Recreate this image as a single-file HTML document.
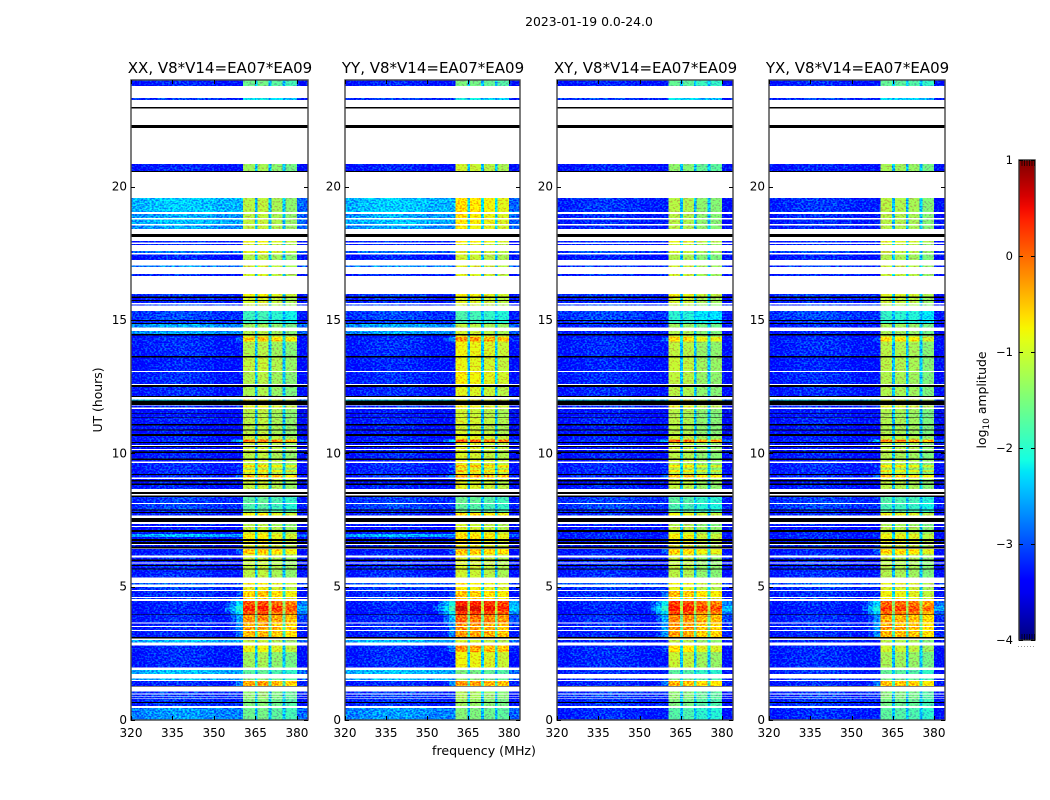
<!DOCTYPE html>
<html>
<head>
<meta charset="utf-8">
<title>2023-01-19 amplitude waterfall</title>
<style>
html,body{margin:0;padding:0;background:#fff;}
svg{display:block;}
text{font-family:"DejaVu Sans","Liberation Sans",sans-serif;fill:#000;}
</style>
</head>
<body>
<svg id="figure" xmlns="http://www.w3.org/2000/svg" width="1050" height="800" viewBox="0 0 1050 800">
<defs>
<filter id="speckle" filterUnits="userSpaceOnUse" x="0" y="0" width="1050" height="800" color-interpolation-filters="sRGB">
<feTurbulence type="fractalNoise" baseFrequency="0.48 0.62" numOctaves="1" seed="7" result="t"/>
<feColorMatrix in="t" type="matrix" values="0 0 0 0 0.5  3 0 0 0 -1  0 0 0 0 0.5  0 0 0 0 1" result="n"/>
<feComposite in="SourceGraphic" in2="n" operator="arithmetic" k1="0" k2="1" k3="0.6" k4="-0.3" result="m"/>
<feComposite in="m" in2="SourceAlpha" operator="in"/>
</filter>
<linearGradient id="jet-gradient" x1="0" y1="1" x2="0" y2="0"></linearGradient>
</defs>
</svg>
<script>
// ---- chart data (UT hours, log10 amplitude) ----
const polarizations = ["XX","YY","XY","YX"];
const baselineLabel = "V8*V14=EA07*EA09";
const freqTicks = [320,335,350,365,380];
const utTicks = [0,5,10,15,20];
const colorTicks = [1,0,-1,-2,-3,-4];

const rowStartUT = [
24.00,23.325,20.85,19.575,18.975,18.77,18.54,17.96,17.85,17.59,
17.46,17.04,16.73,15.98,15.83,15.71,15.58,15.34,14.96,14.85,
14.59,14.42,14.36,14.19,13.59,13.05,12.49,12.02,11.79,11.67,
11.50,11.34,11.05,10.85,10.65,10.51,10.38,10.23,10.13,10.02,
9.75,9.64,9.56,9.47,9.38,9.30,9.19,9.03,8.94,8.81,
8.37,8.10,7.86,7.76,7.35,7.24,7.05,6.98,6.86,6.71,
6.56,6.42,6.23,6.10,5.97,5.86,5.78,5.65,5.13,4.98,
4.84,4.58,4.47,4.28,4.09,3.93,3.61,3.49,3.34,3.00,
2.79,2.55,1.88,1.56,1.46,1.06,0.96,0.86,0.78,0.63,0.45];
const rowEndUT = [
23.775,23.25,20.59,19.05,18.825,18.60,18.41,17.91,17.81,17.51,
17.25,16.99,16.65,15.88,15.75,15.64,15.54,15.00,14.89,14.72,
14.48,14.36,14.19,13.65,13.09,12.60,12.15,11.98,11.71,11.52,
11.36,11.10,10.89,10.73,10.51,10.43,10.31,10.17,10.06,9.81,
9.69,9.56,9.47,9.38,9.30,9.23,9.09,9.00,8.86,8.66,
8.14,7.90,7.80,7.66,7.27,7.13,6.98,6.86,6.78,6.68,
6.50,6.23,6.16,6.02,5.90,5.81,5.69,5.35,5.09,4.88,
4.62,4.53,4.28,4.09,3.96,3.66,3.53,3.38,3.11,2.90,
2.55,1.96,1.73,1.50,1.28,0.99,0.89,0.80,0.68,0.53,0];

const bgParallel = [
-3.15,-3.0,-3.15,-2.3,-2.45,-2.35,-2.5,-3.1,-3.1,-2.7,
-3.15,-2.6,-3.1,-3.0,-3.1,-3.1,-3.0,-2.95,-3.0,-2.5,
-2.5,-3.2,-3.1,-3.1,-3.15,-3.1,-3.1,-2.2,-3.1,-3.2,
-3.2,-3.15,-3.2,-3.2,-3.15,-3.1,-3.2,-3.2,-3.2,-3.15,
-3.2,-3.1,-3.1,-3.1,-3.1,-3.1,-3.1,-3.2,-3.2,-3.15,
-3.0,-2.95,-3.1,-3.1,-3.15,-3.2,-3.15,-2.4,-3.15,-3.15,
-3.1,-3.15,-3.1,-3.1,-3.15,-3.1,-3.1,-3.1,-2.8,-3.0,
-3.05,-3.0,-3.1,-3.15,-3.15,-3.1,-3.1,-3.1,-3.1,-2.4,
-3.1,-3.1,-2.35,-2.4,-3.1,-3.0,-3.0,-3.0,-3.05,-3.05,-2.55];
const bgCross = [
-3.15,-3.0,-3.15,-3.05,-3.1,-3.1,-3.1,-3.1,-3.1,-2.9,
-3.15,-3.0,-3.1,-3.0,-3.1,-3.1,-3.0,-2.95,-3.0,-3.1,
-3.1,-3.2,-3.1,-3.1,-3.15,-3.1,-3.1,-2.2,-3.1,-3.2,
-3.2,-3.15,-3.2,-3.2,-3.15,-3.1,-3.2,-3.2,-3.2,-3.15,
-3.2,-3.1,-3.1,-3.1,-3.1,-3.1,-3.1,-3.2,-3.2,-3.15,
-3.0,-2.95,-3.1,-3.1,-3.15,-3.2,-3.15,-3.1,-3.15,-3.15,
-3.1,-3.15,-3.1,-3.1,-3.15,-3.1,-3.1,-3.1,-2.8,-3.0,
-3.05,-3.0,-3.1,-3.15,-3.15,-3.1,-3.1,-3.1,-3.1,-3.1,
-3.1,-3.1,-3.05,-3.0,-3.1,-3.0,-3.0,-3.0,-3.05,-3.05,-3.1];

const bandXX = [
-1.6,-2.2,-1.3,-1.15,-1.15,-1.1,-1.1,-.85,-1,-.9,
-1.2,-1,-1,-.8,-1,-1,-1.1,-1.9,-1.9,-1.3,
-1.2,-1,-.5,-1.2,-1.1,-1.2,-1.25,-.9,-.85,-1.15,
-1.2,-1.15,-1.15,-1.15,-1.05,-.1,-1.1,-1.05,-1.05,-1.15,
-1,-1.15,-.65,-1.15,-.7,-1.15,-.45,-1,-1.05,-1.1,
-1.7,-1.8,-1.6,-.8,-1.2,-1.1,-1,-.75,-.8,-.8,
-.9,-.55,-.9,-1.1,-1.1,-1.1,-1.1,-1.15,-.8,-.9,
-.55,-.7,.1,.35,.1,-.2,-.4,-.3,-.45,-1.1,
-.85,-1.3,-1.7,-1.5,-.35,-1.4,-1.4,-1.4,-1.5,-1.5,-1.6];
const bandYY = [
-1.6,-2.2,-1.1,-.75,-.8,-.8,-.85,-.8,-1,-1,
-1.1,-1,-1,-.85,-1,-1,-1.1,-1.9,-1.9,-1.2,
-1.1,-.9,-.3,-.9,-.95,-.85,-1.0,-.9,-.85,-1.1,
-1.1,-1.05,-1.1,-1.05,-.95,0,-1,-1,-1,-1.05,
-.9,-1,-.5,-1,-.55,-1,-.35,-.9,-1,-1,
-1.7,-1.8,-1.6,-.7,-1.1,-1.05,-.9,-.7,-.75,-.8,
-.85,-.55,-.85,-1.05,-1.05,-1.05,-1.05,-1.1,-.8,-.85,
-.6,-.6,.3,.55,.2,-.1,-.3,-.35,-.35,-1.05,
-.35,-.9,-1.6,-1.5,-.35,-1.3,-1.3,-1.3,-1.4,-1.4,-1.55];
const bandXY = [
-1.65,-2.2,-1.4,-1.15,-1.15,-1.15,-1.15,-.85,-1,-1,
-1.2,-1,-1,-.8,-1,-1,-1.1,-2,-1.9,-1.3,
-1.2,-1,-.55,-1.1,-1.05,-1.1,-1.15,-.9,-.85,-1.15,
-1.2,-1.15,-1.15,-1.15,-1.05,-.05,-1.1,-1.05,-1.05,-1.15,
-1,-1.15,-.65,-1.15,-.7,-1.15,-.45,-1,-1.05,-1.1,
-1.7,-1.8,-1.6,-.8,-1.2,-1.1,-1,-.75,-.8,-.8,
-.9,-.55,-.9,-1.1,-1.1,-1.1,-1.1,-1.15,-.8,-.9,
-.45,-.7,.2,.45,.15,-.15,-.3,-.25,-.3,-1.1,
-.65,-1.05,-1.7,-1.5,-.4,-1.4,-1.4,-1.4,-1.5,-1.5,-1.75];
const bandYX = [
-1.6,-2.2,-1.2,-1.1,-1.1,-1.1,-1.1,-.85,-1,-1,
-1.15,-1,-1,-.85,-1,-1,-1.1,-1.9,-1.9,-1.2,
-1.2,-1,-.6,-1.1,-1.1,-1.15,-1.15,-.9,-.85,-1.15,
-1.2,-1.15,-1.15,-1.15,-1.05,-.1,-1.1,-1.05,-1.05,-1.15,
-1,-1.15,-.65,-1.15,-.7,-1.15,-.45,-1,-1.05,-1.1,
-1.7,-1.8,-1.6,-.8,-1.2,-1.1,-1,-.75,-.8,-.8,
-.9,-.55,-.9,-1.1,-1.1,-1.1,-1.1,-1.15,-.8,-.9,
-.75,-.7,.05,.3,.05,-.3,-.3,-.25,-.35,-1.1,
-.95,-1.2,-1.6,-1.5,-.4,-1.4,-1.4,-1.4,-1.5,-1.5,-1.65];

const subbandOffsetXX = [0,.05,-.1,-.25];
const subbandOffsetYY = [.1,.05,-.05,-.15];
const subbandOffsetXY = [0,-.05,-.25,-.3];
const subbandOffsetYX = [-.05,-.1,-.15,-.35];

const flaggedStartUT = [22.99,22.31,20.59,18.23,15.88,15.75,15.00,14.89,14.48,13.65,12.56,12.15,11.98,11.52,11.36,11.10,10.89,10.73,10.43,10.28,10.06,9.81,9.23,9.00,8.86,8.55,8.41,7.90,7.80,7.58,7.13,6.78,6.68,6.50,6.02,5.81,5.69,3.96,3.11,1.28,0.68];
const flaggedEndUT = [22.93,22.20,20.55,18.11,15.83,15.71,14.96,14.85,14.42,13.59,12.49,12.11,11.81,11.50,11.34,11.05,10.85,10.65,10.38,10.23,10.02,9.75,9.19,8.94,8.81,8.48,8.37,7.86,7.76,7.43,7.05,6.71,6.60,6.43,5.97,5.78,5.65,3.93,3.06,1.25,0.63];

const bgFreqEdges = [320,325,330,335,340,345,350];
const bgProfile = [-.1,-.02,.04,.07,.05,0];
const skirtFreqEdges = [350,352,354,356,358,360.5];
const skirtDrop = [-4,-3.6,-3.2,-2.8,-2.4];
const subbandStart = [360.5,365.8,370.8,375.8];
const subbandEnd = [364.8,369.8,374.8,380];
const gapLevel = -2.45;
const noiseFloorShift = -0.12;

// ---- layout / scales ----
const svgNS = "http://www.w3.org/2000/svg";
const svg = document.getElementById("figure");
const panelLeft = [131,345,557,769];
const panelRight = [308,520,733,945];
const plotTop = 80, plotBottom = 720;
const barLeft = 1019, barRight = 1035, barTop = 160, barBottom = 640;
const yOf = function(h){ return plotBottom - h * (plotBottom - plotTop) / 24; };
const barY = function(v){ return barBottom - (v + 4) * (barBottom - barTop) / 5; };

function piece(p, t){
  for (let i = 1; i < p.length; i++) {
    if (t <= p[i][0]) return p[i-1][1] + (p[i][1]-p[i-1][1])*(t-p[i-1][0])/(p[i][0]-p[i-1][0]);
  }
  return p[p.length-1][1];
}
const jetR = [[0,0],[.35,0],[.66,1],[.89,1],[1,.5]];
const jetG = [[0,0],[.125,0],[.375,1],[.64,1],[.91,0],[1,0]];
const jetB = [[0,.5],[.11,1],[.34,1],[.65,0],[1,0]];
function jet(v){
  const t = Math.min(1, Math.max(0, (v + 4) / 5));
  return "rgb(" + Math.round(255*piece(jetR,t)) + "," + Math.round(255*piece(jetG,t)) + "," + Math.round(255*piece(jetB,t)) + ")";
}
function make(tag, attrs, parent){
  const el = document.createElementNS(svgNS, tag);
  for (const k in attrs) el.setAttribute(k, attrs[k]);
  (parent || svg).appendChild(el);
  return el;
}
function cell(g, x0, x1, y0, y1, v){
  const r = make("rect", {x:x0, y:y0, width:x1-x0, height:y1-y0, fill:jet(v), "shape-rendering":"crispEdges"}, g);
  
  
}

const bgByPol = [bgParallel,bgParallel,bgCross,bgCross];
const bandByPol = [bandXX,bandYY,bandXY,bandYX];
const offsetByPol = [subbandOffsetXX,subbandOffsetYY,subbandOffsetXY,subbandOffsetYX];

// ---- figure title ----
const figTitle = make("text", {x:589, y:26, "text-anchor":"middle", "font-size":12.4});
figTitle.textContent = "2023-01-19 0.0-24.0";



// ---- panels ----
polarizations.forEach(function(pol, p){
  const L = panelLeft[p], R = panelRight[p];
  const xOf = function(f){ return L + (f - 320) * (R - L) / 64; };
  const panel = make("g", {});
  
  

  const data = make("g", {filter:"url(#speckle)"}, panel);
  
  
  const bg = bgByPol[p], band = bandByPol[p], off = offsetByPol[p];
  rowStartUT.forEach(function(start, i){
    const y0 = yOf(start), y1 = yOf(rowEndUT[i]);
    const floor = bg[i] + noiseFloorShift;
    bgProfile.forEach(function(o, k){
      cell(data, xOf(bgFreqEdges[k]), xOf(bgFreqEdges[k+1]), y0, y1, floor + o);
    });
    skirtDrop.forEach(function(d, k){
      cell(data, xOf(skirtFreqEdges[k]), xOf(skirtFreqEdges[k+1]), y0, y1, Math.max(floor - .08, band[i] + d));
    });
    subbandStart.forEach(function(s, k){
      cell(data, xOf(s), xOf(subbandEnd[k]), y0, y1, band[i] + off[k]);
      if (k < 3) cell(data, xOf(subbandEnd[k]), xOf(subbandStart[k+1]), y0, y1, Math.max(gapLevel, band[i] - 1.5));
    });
    cell(data, xOf(380), xOf(384), y0, y1, Math.max(Math.min(floor - .2, -2.9), band[i] - 2.9));
  });

  const flags = make("g", {}, panel);
  
  
  flaggedStartUT.forEach(function(s, i){
    const r = make("rect", {x:L, y:yOf(s), width:R-L, height:yOf(flaggedEndUT[i])-yOf(s), fill:"#000", "shape-rendering":"crispEdges"}, flags);
    
    
  });

  const frame = make("rect", {x:L, y:plotTop, width:R-L, height:plotBottom-plotTop, fill:"none", stroke:"#444", "stroke-width":1.4}, panel);
  
  

  freqTicks.forEach(function(f){
    const x = Math.round(xOf(f)) + .5;
    const t1 = make("line", {x1:x, x2:x, y1:plotBottom, y2:plotBottom-4, stroke:"#000"}, panel);
    
    
    const t2 = make("line", {x1:x, x2:x, y1:plotTop, y2:plotTop+4, stroke:"#000"}, panel);
    
    
    const lab = make("text", {x:xOf(f), y:737, "text-anchor":"middle", "font-size":12}, panel);
    lab.textContent = String(f);
    
    
  });
  utTicks.forEach(function(h){
    const y = Math.round(yOf(h)) + .5;
    const t1 = make("line", {x1:L, x2:L+4, y1:y, y2:y, stroke:"#000"}, panel);
    
    
    const t2 = make("line", {x1:R, x2:R-4, y1:y, y2:y, stroke:"#000"}, panel);
    
    
    const lab = make("text", {x:L-4, y:yOf(h)+4, "text-anchor":"end", "font-size":12}, panel);
    lab.textContent = String(h);
    
    
  });

  const title = make("text", {x:(L+R)/2 + 0.5, y:73, "text-anchor":"middle", "font-size":15}, panel);
  title.textContent = pol + ", " + baselineLabel;
  
  
});

// ---- axis titles ----
const yTitle = make("text", {x:0, y:0, "text-anchor":"middle", "font-size":12.4, transform:"translate(102,400) rotate(-90)"});
yTitle.textContent = "UT (hours)";



const xTitle = make("text", {x:484, y:755, "text-anchor":"middle", "font-size":12.6});
xTitle.textContent = "frequency (MHz)";



// ---- colorbar ----
const grad = document.getElementById("jet-gradient");
for (let s = 0; s <= 40; s++) {
  const stop = make("stop", {offset:(s/40), "stop-color":jet(-4 + 5*s/40)}, grad);
}
const bar = make("rect", {x:barLeft, y:barTop, width:barRight-barLeft, height:barBottom-barTop, fill:"url(#jet-gradient)", stroke:"#333", "stroke-width":1.4});


colorTicks.forEach(function(v){
  const y = Math.round(barY(v)) + .5;
  const t1 = make("line", {x1:barLeft, x2:barLeft+4, y1:y, y2:y, stroke:"#000"});
  
  
  const t2 = make("line", {x1:barRight, x2:barRight-4, y1:y, y2:y, stroke:"#000"});
  
  
  const lab = make("text", {x:1013, y:barY(v)+4, "text-anchor":"end", "font-size":11.5});
  lab.textContent = (v < 0 ? "\u2212" + (-v) : String(v));
  
  
});
for (let k = 0; k < 6; k++) {
  const x = barLeft + 2.5 + k * 2.5 + .5;
  const a = make("line", {x1:x, x2:x, y1:barTop, y2:barTop+6, stroke:"#000", "stroke-width":.7});
  
  
  const b = make("line", {x1:x, x2:x, y1:barBottom, y2:barBottom-6, stroke:"#000", "stroke-width":.7});
  
  
  const d = make("rect", {x:barLeft-1+k*3, y:646, width:1, height:1, fill:"#999"});
  
  
}
const cTitle = make("text", {x:0, y:0, "text-anchor":"middle", "font-size":12.4, transform:"translate(986,400) rotate(-90)"});


const c1 = make("tspan", {}, cTitle);
c1.textContent = "log";
const c2 = make("tspan", {dy:3, "font-size":9}, cTitle);
c2.textContent = "10";
const c3 = make("tspan", {dy:-3}, cTitle);
c3.textContent = " amplitude";
</script>
</body>
</html>
